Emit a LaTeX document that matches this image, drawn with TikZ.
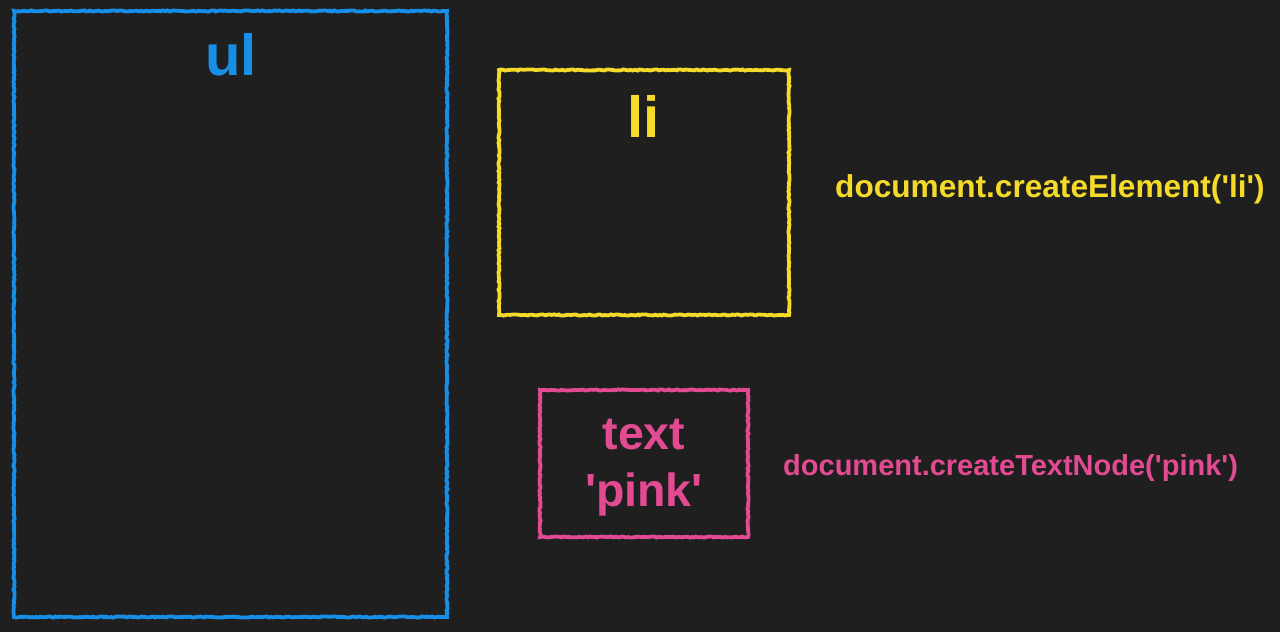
\documentclass[tikz,border=0pt]{standalone}
\usepackage{fontspec}
\setmainfont{Liberation Sans}
\usetikzlibrary{decorations.pathmorphing}
\definecolor{bgc}{HTML}{1F1F1F}
\definecolor{ulblue}{HTML}{178FE8}
\definecolor{liyellow}{HTML}{F5DA2A}
\definecolor{txtpink}{HTML}{E24A92}
\newcommand{\sq}{\textquotesingle}
\begin{document}
\begin{tikzpicture}[x=1pt,y=-1pt,
  chalkbox/.style={draw=#1, line width=3.8pt, inner sep=0pt, rectangle,
    decorate, decoration={random steps, segment length=2.2pt, amplitude=0.6pt}},
  biglabel/.style={text=#1, font=\bfseries\fontsize{58}{64}\selectfont, anchor=base, inner sep=0pt},
  codelabel/.style={text=#1, anchor=base west, inner sep=0pt}
]
\fill[bgc] (0,0) rectangle (1280,632);
\useasboundingbox (0,0) rectangle (1280,632);

\node[chalkbox=ulblue, minimum width=433pt, minimum height=606pt] (ulbox) at (230.5,314) {};
\node[biglabel=ulblue] (ultext) at (231,75) {ul};

\node[chalkbox=liyellow, minimum width=290pt, minimum height=245pt] (libox) at (644,192.5) {};
\node[biglabel=liyellow] (litext) at (643.5,137) {li};
\node[codelabel=liyellow, font=\bfseries\fontsize{31.6}{38}\selectfont] (licode) at (835,197) {document.createElement(\sq li\sq)};

\node[chalkbox=txtpink, minimum width=208pt, minimum height=147pt] (txtbox) at (644,463.5) {};
\node[text=txtpink, font=\bfseries\fontsize{46.5}{57}\selectfont, align=center, inner sep=0pt] (txttext) at (644,467.5) {text\\\sq pink\sq};
\node[codelabel=txtpink, font=\bfseries\fontsize{29}{35}\selectfont] (txtcode) at (783,475) {document.createTextNode(\sq pink\sq)};
\end{tikzpicture}
\end{document}
